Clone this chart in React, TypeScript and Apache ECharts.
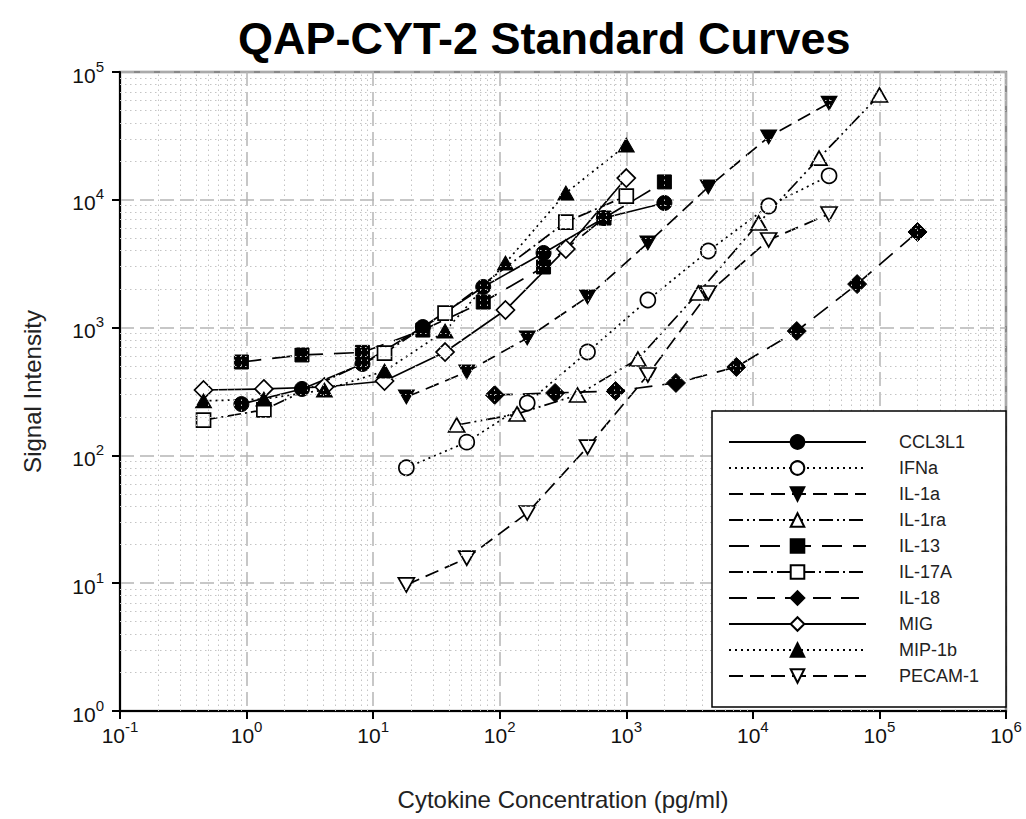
import React, { useEffect, useRef } from "react";
import * as echarts from "echarts";

// Concentrations (pg/ml), 3-fold dilution series
const xCCL = [0.91, 2.74, 8.23, 24.7, 74.1, 222, 667, 2000];
const xMIG = [0.457, 1.37, 4.12, 12.3, 37.0, 111, 333, 1000];
const xIFN = [18.3, 54.9, 165, 494, 1481, 4444, 13333, 40000];
const xIL1RA = [45.7, 137, 412, 1235, 3704, 11111, 33333, 100000];
const xIL18 = [91.4, 274, 823, 2469, 7407, 22222, 66667, 200000];

// Signal intensities
const yCCL3L1 = [252, 331, 519, 1010, 2080, 3835, 7200, 9440];
const yIFNa = [80, 127, 257, 644, 1645, 3975, 8940, 15400];
const yIL1a = [286, 450, 830, 1735, 4590, 12600, 31000, 57100];
const yIL1ra = [173, 211, 297, 568, 1866, 6580, 21200, 66100];
const yIL13 = [538, 611, 640, 957, 1585, 2980, 7200, 13800];
const yIL17A = [189, 227, null, 632, 1300, null, 6700, 10700];
const yIL18 = [297, 308, 319, 369, 492, 940, 2190, 5600];
const yMIG = [325, 331, 343, 382, 644, 1373, 4120, 14800];
const yMIP1b = [267, 276, 325, 457, 940, 3200, 11300, 26800];
const yPECAM1 = [9.7, 15.7, 35.4, 116, 426, 1866, 4850, 7740];

const legendNames = ["CCL3L1", "IFNa", "IL-1a", "IL-1ra", "IL-13", "IL-17A", "IL-18", "MIG", "MIP-1b", "PECAM-1"];

const xMinorExps = [-1, 0, 1, 2, 3, 4, 5];
const yMinorExps = [0, 1, 2, 3, 4];
const minorMults = [2, 3, 4, 5, 6, 7, 8, 9];

const DOWN_TRI = "path://M0,0L20,0L10,17.3Z";

type Def = {
  name: string;
  xs: number[];
  ys: (number | null)[];
  symbol: string;
  filled: boolean;
  dash: "solid" | number[];
  size: number | number[];
};

const defs: Def[] = [
  { name: "CCL3L1", xs: xCCL, ys: yCCL3L1, symbol: "circle", filled: true, dash: "solid", size: 15 },
  { name: "IFNa", xs: xIFN, ys: yIFNa, symbol: "circle", filled: false, dash: [2, 4], size: 15 },
  { name: "IL-1a", xs: xIFN, ys: yIL1a, symbol: DOWN_TRI, filled: true, dash: [14, 7], size: [16, 14] },
  { name: "IL-1ra", xs: xIL1RA, ys: yIL1ra, symbol: "triangle", filled: false, dash: [14, 4, 2, 4, 2, 4], size: [16, 14] },
  { name: "IL-13", xs: xCCL, ys: yIL13, symbol: "rect", filled: true, dash: [20, 11], size: 14 },
  { name: "IL-17A", xs: xMIG, ys: yIL17A, symbol: "rect", filled: false, dash: [14, 4, 2, 4], size: 14 },
  { name: "IL-18", xs: xIL18, ys: yIL18, symbol: "diamond", filled: true, dash: [18, 10], size: 19 },
  { name: "MIG", xs: xMIG, ys: yMIG, symbol: "diamond", filled: false, dash: "solid", size: 18 },
  { name: "MIP-1b", xs: xMIG, ys: yMIP1b, symbol: "triangle", filled: true, dash: [2, 4], size: [16, 14] },
  { name: "PECAM-1", xs: xIFN, ys: yPECAM1, symbol: DOWN_TRI, filled: false, dash: [14, 7], size: [16, 14] },
];

const FONT = "Liberation Sans, Arial, sans-serif";

function supLabel(v: number) {
  const e = Math.round(Math.log10(v));
  return `{b|10}{s|${e}}`;
}

export default function App() {
  const ref = useRef<HTMLDivElement>(null);
  useEffect(() => {
    document.body.style.margin = "0";
    const chart = echarts.init(ref.current!, null, { renderer: "svg" });

    const xMinor: number[] = [];
    xMinorExps.forEach((e) => minorMults.forEach((m) => xMinor.push(m * Math.pow(10, e))));
    const yMinor: number[] = [];
    yMinorExps.forEach((e) => minorMults.forEach((m) => yMinor.push(m * Math.pow(10, e))));

    const rich = {
      b: { fontSize: 21, fontFamily: FONT, color: "#111", lineHeight: 27, verticalAlign: "bottom" },
      s: { fontSize: 15, fontFamily: FONT, color: "#111", lineHeight: 15, verticalAlign: "top" },
    };

    const series: any[] = defs.map((d) => ({
      name: d.name,
      type: "line",
      data: d.xs.map((x, i) => [x, d.ys[i]]),
      connectNulls: true,
      symbol: d.symbol,
      symbolSize: d.size,
      showAllSymbol: true,
      lineStyle: { color: "#000", width: 1.7, type: d.dash },
      itemStyle: d.filled
        ? { color: "#000", borderColor: "#000", borderWidth: 1 }
        : { color: "#fff", borderColor: "#000", borderWidth: 1.7 },
      emphasis: { disabled: true },
      z: 3,
    }));

    series.push({
      name: "minorGrid",
      type: "line",
      data: [],
      silent: true,
      z: 1,
      markLine: {
        silent: true,
        symbol: ["none", "none"],
        label: { show: false },
        animation: false,
        lineStyle: { color: "#c4c4c4", width: 1, type: [1.5, 3.5] },
        emphasis: { disabled: true },
        data: [
          ...xMinor.map((v) => ({ xAxis: v })),
          ...yMinor.map((v) => ({ yAxis: v })),
        ],
      },
    });

    chart.setOption({
      animation: false,
      backgroundColor: "#fff",
      title: {
        text: "QAP-CYT-2 Standard Curves",
        left: 233,
        top: 11,
        textStyle: { fontSize: 45, fontWeight: "bold", fontFamily: FONT, color: "#000" },
      },
      grid: {
        left: 120,
        right: 20,
        top: 72,
        bottom: 108,
        show: true,
        borderColor: "#888",
        borderWidth: 2.5,
        backgroundColor: "transparent",
      },
      xAxis: {
        type: "log",
        logBase: 10,
        min: 0.1,
        max: 1e6,
        splitNumber: 7,
        name: "Cytokine Concentration (pg/ml)",
        nameLocation: "middle",
        nameGap: 76,
        nameTextStyle: { fontSize: 24, fontFamily: FONT, color: "#222" },
        axisLine: { lineStyle: { color: "#000", width: 2 } },
        axisTick: { lineStyle: { color: "#000", width: 2 }, length: 8 },
        axisLabel: { formatter: supLabel, rich, margin: 8 },
        splitLine: { show: true, lineStyle: { color: "#b5b5b5", width: 1.5, type: [14, 6] } },
        minorTick: { show: false },
      },
      yAxis: {
        type: "log",
        logBase: 10,
        min: 1,
        max: 1e5,
        splitNumber: 5,
        name: "Signal Intensity",
        nameLocation: "middle",
        nameGap: 76,
        nameTextStyle: { fontSize: 24, fontFamily: FONT, color: "#222" },
        axisLine: { lineStyle: { color: "#000", width: 2 } },
        axisTick: { lineStyle: { color: "#000", width: 2 }, length: 8 },
        axisLabel: { formatter: supLabel, rich, margin: 16 },
        splitLine: { show: true, lineStyle: { color: "#b5b5b5", width: 1.5, type: [14, 6] } },
      },
      legend: {
        data: legendNames,
        orient: "vertical",
        left: 712,
        top: 411,
        itemWidth: 137,
        itemHeight: 17,
        itemGap: 8,
        padding: [22, 27, 22, 16],
        backgroundColor: "#fff",
        borderColor: "#000",
        borderWidth: 1.5,
        borderRadius: 0,
        selectedMode: false,
        textStyle: { fontSize: 18, fontFamily: FONT, color: "#222", padding: [0, 0, 0, 28] },
        z: 10,
      },
      series,
    });
    return () => chart.dispose();
  }, []);
  return <div ref={ref} style={{ width: 1026, height: 819 }} />;
}
